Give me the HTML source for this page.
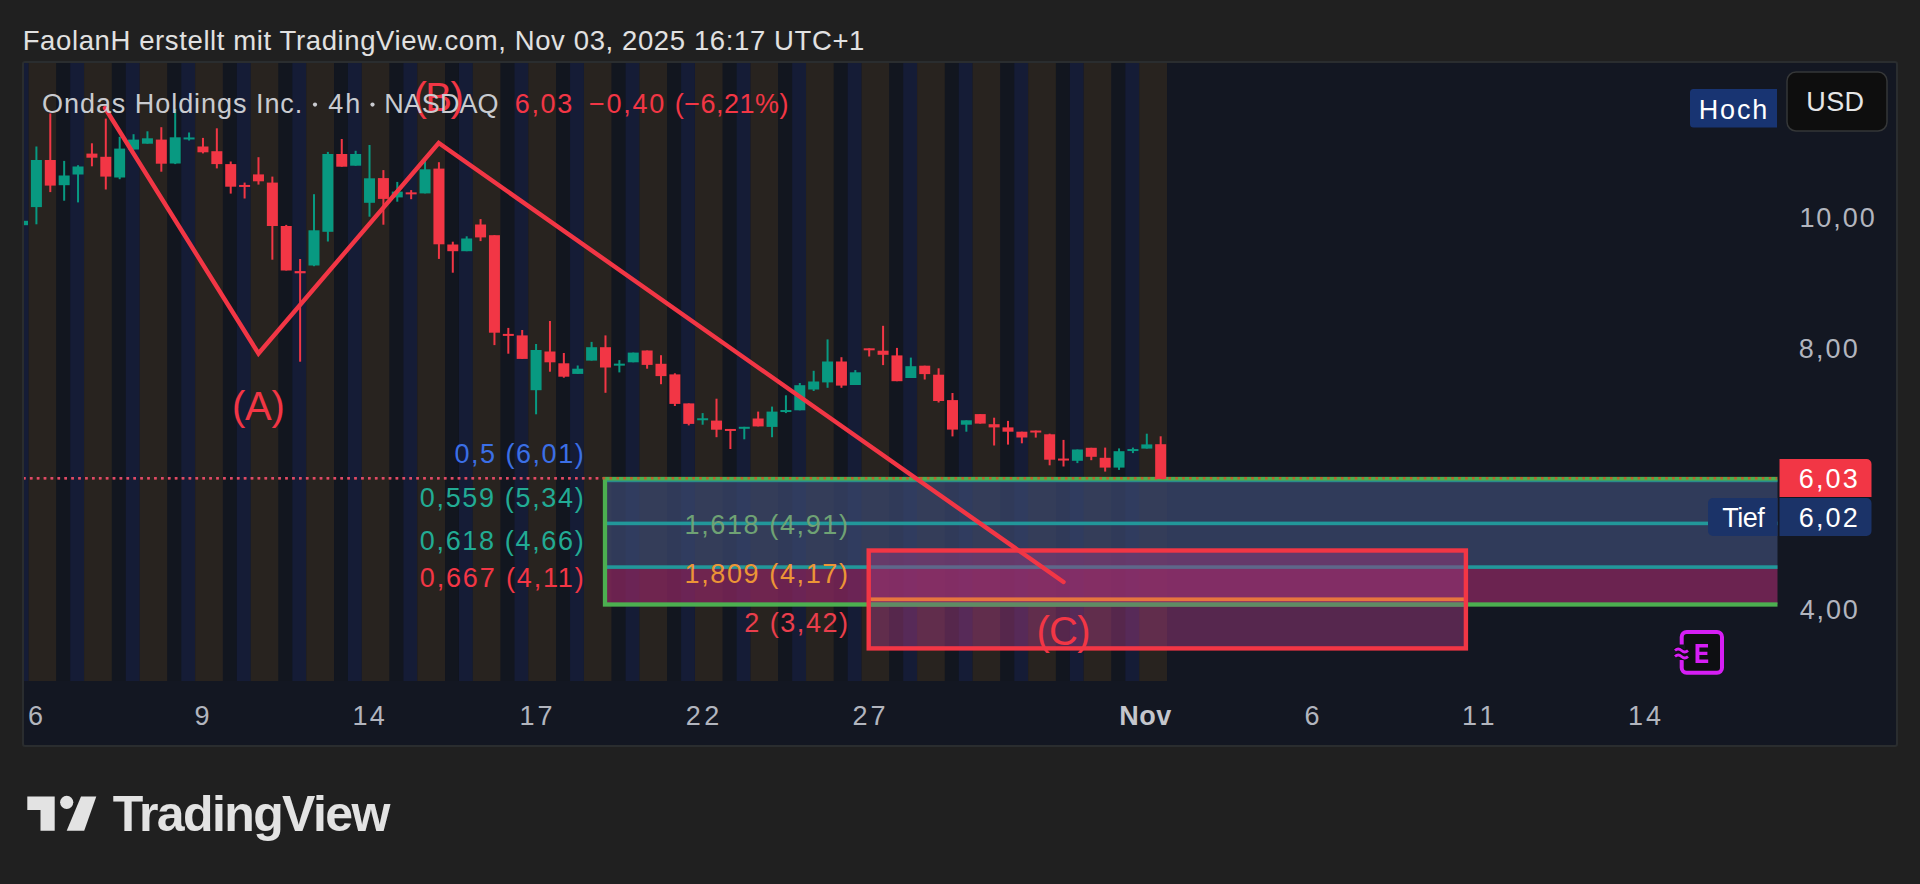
<!DOCTYPE html>
<html><head><meta charset="utf-8">
<style>
html,body{margin:0;padding:0;background:#202020;width:1920px;height:884px;overflow:hidden;}
svg{position:absolute;left:0;top:0;}
text{font-family:"Liberation Sans", sans-serif;}
</style></head><body>
<svg width="1920" height="884" viewBox="0 0 1920 884">
<defs><clipPath id="plot"><rect x="24" y="63" width="1753.5" height="618"/></clipPath></defs>
<text x="22.70" y="50.20" font-size="27.5" letter-spacing="0.614" fill="#e1e1e1">FaolanH erstellt mit TradingView.com, Nov 03, 2025 16:17 UTC+1</text>
<rect x="23" y="62" width="1874" height="684" rx="2" fill="#131722" stroke="#2a2d2f" stroke-width="2"/>
<g clip-path="url(#plot)">
<rect x="24.00" y="63" width="4.61" height="618" fill="#151c36"/><rect x="28.61" y="63" width="27.77" height="618" fill="#28231f"/><rect x="56.37" y="63" width="13.88" height="618" fill="#12161f"/><rect x="70.26" y="63" width="13.88" height="618" fill="#151c36"/><rect x="84.14" y="63" width="27.77" height="618" fill="#28231f"/><rect x="111.91" y="63" width="13.88" height="618" fill="#12161f"/><rect x="125.79" y="63" width="13.88" height="618" fill="#151c36"/><rect x="139.67" y="63" width="27.77" height="618" fill="#28231f"/><rect x="167.44" y="63" width="13.88" height="618" fill="#12161f"/><rect x="181.32" y="63" width="13.88" height="618" fill="#151c36"/><rect x="195.20" y="63" width="27.77" height="618" fill="#28231f"/><rect x="222.97" y="63" width="13.88" height="618" fill="#12161f"/><rect x="236.85" y="63" width="13.88" height="618" fill="#151c36"/><rect x="250.74" y="63" width="27.77" height="618" fill="#28231f"/><rect x="278.50" y="63" width="13.88" height="618" fill="#12161f"/><rect x="292.39" y="63" width="13.88" height="618" fill="#151c36"/><rect x="306.27" y="63" width="27.77" height="618" fill="#28231f"/><rect x="334.03" y="63" width="13.88" height="618" fill="#12161f"/><rect x="347.92" y="63" width="13.88" height="618" fill="#151c36"/><rect x="361.80" y="63" width="27.77" height="618" fill="#28231f"/><rect x="389.57" y="63" width="13.88" height="618" fill="#12161f"/><rect x="403.45" y="63" width="13.88" height="618" fill="#151c36"/><rect x="417.33" y="63" width="27.77" height="618" fill="#28231f"/><rect x="445.10" y="63" width="13.88" height="618" fill="#12161f"/><rect x="458.98" y="63" width="13.88" height="618" fill="#151c36"/><rect x="472.86" y="63" width="27.77" height="618" fill="#28231f"/><rect x="500.63" y="63" width="13.88" height="618" fill="#12161f"/><rect x="514.51" y="63" width="13.88" height="618" fill="#151c36"/><rect x="528.40" y="63" width="27.77" height="618" fill="#28231f"/><rect x="556.16" y="63" width="13.88" height="618" fill="#12161f"/><rect x="570.05" y="63" width="13.88" height="618" fill="#151c36"/><rect x="583.93" y="63" width="27.77" height="618" fill="#28231f"/><rect x="611.69" y="63" width="13.88" height="618" fill="#12161f"/><rect x="625.58" y="63" width="13.88" height="618" fill="#151c36"/><rect x="639.46" y="63" width="27.77" height="618" fill="#28231f"/><rect x="667.23" y="63" width="13.88" height="618" fill="#12161f"/><rect x="681.11" y="63" width="13.88" height="618" fill="#151c36"/><rect x="694.99" y="63" width="27.77" height="618" fill="#28231f"/><rect x="722.76" y="63" width="13.88" height="618" fill="#12161f"/><rect x="736.64" y="63" width="13.88" height="618" fill="#151c36"/><rect x="750.52" y="63" width="27.77" height="618" fill="#28231f"/><rect x="778.29" y="63" width="13.88" height="618" fill="#12161f"/><rect x="792.17" y="63" width="13.88" height="618" fill="#151c36"/><rect x="806.06" y="63" width="27.77" height="618" fill="#28231f"/><rect x="833.82" y="63" width="13.88" height="618" fill="#12161f"/><rect x="847.71" y="63" width="13.88" height="618" fill="#151c36"/><rect x="861.59" y="63" width="27.77" height="618" fill="#28231f"/><rect x="889.35" y="63" width="13.88" height="618" fill="#12161f"/><rect x="903.24" y="63" width="13.88" height="618" fill="#151c36"/><rect x="917.12" y="63" width="27.77" height="618" fill="#28231f"/><rect x="944.89" y="63" width="13.88" height="618" fill="#12161f"/><rect x="958.77" y="63" width="13.88" height="618" fill="#151c36"/><rect x="972.65" y="63" width="27.77" height="618" fill="#28231f"/><rect x="1000.42" y="63" width="13.88" height="618" fill="#12161f"/><rect x="1014.30" y="63" width="13.88" height="618" fill="#151c36"/><rect x="1028.18" y="63" width="27.77" height="618" fill="#28231f"/><rect x="1055.95" y="63" width="13.88" height="618" fill="#12161f"/><rect x="1069.83" y="63" width="13.88" height="618" fill="#151c36"/><rect x="1083.72" y="63" width="27.77" height="618" fill="#28231f"/><rect x="1111.48" y="63" width="13.88" height="618" fill="#12161f"/><rect x="1125.37" y="63" width="13.88" height="618" fill="#151c36"/><rect x="1139.25" y="63" width="27.77" height="618" fill="#28231f"/>
<rect x="605" y="479" width="1300" height="89" fill="#38456a" fill-opacity="0.78"/>
<rect x="605" y="568" width="1300" height="36" fill="#84265e" fill-opacity="0.78"/>
<rect x="605" y="521.6" width="1300" height="3.6" fill="#22979a"/>
<rect x="605" y="565.3" width="1300" height="3.6" fill="#22979a"/>
<rect x="605" y="479" width="1300" height="125.5" fill="none" stroke="#4caf50" stroke-width="4.3"/>
<rect x="869" y="550.5" width="596.5" height="98" fill="#99377a" fill-opacity="0.5"/><rect x="869" y="602.5" width="596.5" height="4.2" fill="#5f8c64"/>
<rect x="869" y="597.4" width="596" height="3.8" fill="#e6763e"/>
<rect x="868.7" y="550.5" width="597.2" height="97.9" fill="none" stroke="#f23645" stroke-width="4.4"/>
<rect x="607" y="480.6" width="1200" height="1.6" fill="#2a8a8a"/><line x1="23" y1="478.3" x2="1777" y2="478.3" stroke="#f04020" stroke-width="2.6" stroke-dasharray="2.6 4.3" stroke-opacity="0.7"/><line x1="23" y1="478.3" x2="603" y2="478.3" stroke="#dc4a6a" stroke-width="2.6" stroke-dasharray="2.6 4.3"/>
<rect x="21.52" y="219.30" width="2" height="13.40" fill="#089981"/><rect x="17.02" y="220.80" width="11" height="4.40" fill="#089981"/><rect x="35.40" y="146.50" width="2" height="77.80" fill="#089981"/><rect x="30.90" y="160.00" width="11" height="47.10" fill="#089981"/><rect x="49.28" y="113.40" width="2" height="78.70" fill="#f23645"/><rect x="44.78" y="160.00" width="11" height="25.60" fill="#f23645"/><rect x="63.16" y="160.90" width="2" height="39.80" fill="#089981"/><rect x="58.66" y="175.50" width="11" height="9.70" fill="#089981"/><rect x="77.04" y="165.20" width="2" height="37.20" fill="#089981"/><rect x="72.54" y="166.50" width="11" height="8.00" fill="#089981"/><rect x="90.92" y="143.30" width="2" height="23.00" fill="#f23645"/><rect x="86.42" y="153.60" width="11" height="4.10" fill="#f23645"/><rect x="104.80" y="118.60" width="2" height="70.90" fill="#f23645"/><rect x="100.30" y="156.80" width="11" height="19.80" fill="#f23645"/><rect x="118.68" y="136.80" width="2" height="42.40" fill="#089981"/><rect x="114.18" y="148.60" width="11" height="28.90" fill="#089981"/><rect x="132.56" y="134.20" width="2" height="15.30" fill="#089981"/><rect x="128.06" y="139.60" width="11" height="9.90" fill="#089981"/><rect x="146.44" y="131.30" width="2" height="12.40" fill="#089981"/><rect x="141.94" y="138.30" width="11" height="5.40" fill="#089981"/><rect x="160.32" y="127.20" width="2" height="44.50" fill="#f23645"/><rect x="155.82" y="139.60" width="11" height="24.10" fill="#f23645"/><rect x="174.20" y="108.90" width="2" height="55.20" fill="#089981"/><rect x="169.70" y="137.30" width="11" height="26.20" fill="#089981"/><rect x="188.08" y="132.50" width="2" height="8.00" fill="#089981"/><rect x="183.58" y="137.45" width="11" height="2.00" fill="#089981"/><rect x="201.96" y="137.90" width="2" height="15.50" fill="#f23645"/><rect x="197.46" y="146.50" width="11" height="5.80" fill="#f23645"/><rect x="215.84" y="128.30" width="2" height="40.10" fill="#f23645"/><rect x="211.34" y="151.20" width="11" height="12.90" fill="#f23645"/><rect x="229.72" y="161.50" width="2" height="32.10" fill="#f23645"/><rect x="225.22" y="164.10" width="11" height="22.60" fill="#f23645"/><rect x="243.60" y="182.60" width="2" height="15.90" fill="#f23645"/><rect x="239.10" y="184.95" width="11" height="2.00" fill="#f23645"/><rect x="257.48" y="157.20" width="2" height="27.40" fill="#f23645"/><rect x="252.98" y="174.40" width="11" height="6.90" fill="#f23645"/><rect x="271.36" y="176.60" width="2" height="83.10" fill="#f23645"/><rect x="266.86" y="182.60" width="11" height="43.40" fill="#f23645"/><rect x="285.24" y="224.90" width="2" height="45.60" fill="#f23645"/><rect x="280.74" y="226.00" width="11" height="44.50" fill="#f23645"/><rect x="299.12" y="259.00" width="2" height="102.70" fill="#f23645"/><rect x="294.62" y="271.10" width="11" height="2.20" fill="#f23645"/><rect x="313.00" y="194.20" width="2" height="72.00" fill="#089981"/><rect x="308.50" y="230.30" width="11" height="35.20" fill="#089981"/><rect x="326.88" y="151.90" width="2" height="89.60" fill="#089981"/><rect x="322.38" y="154.00" width="11" height="77.80" fill="#089981"/><rect x="340.76" y="139.00" width="2" height="27.70" fill="#f23645"/><rect x="336.26" y="154.00" width="11" height="12.70" fill="#f23645"/><rect x="354.64" y="150.80" width="2" height="14.90" fill="#089981"/><rect x="350.14" y="154.00" width="11" height="11.70" fill="#089981"/><rect x="368.52" y="145.00" width="2" height="71.70" fill="#089981"/><rect x="364.02" y="178.30" width="11" height="24.50" fill="#089981"/><rect x="382.40" y="170.10" width="2" height="54.60" fill="#f23645"/><rect x="377.90" y="178.10" width="11" height="20.80" fill="#f23645"/><rect x="396.28" y="181.90" width="2" height="19.80" fill="#089981"/><rect x="391.78" y="191.60" width="11" height="5.80" fill="#089981"/><rect x="410.16" y="190.10" width="2" height="9.10" fill="#f23645"/><rect x="405.66" y="192.35" width="11" height="2.00" fill="#f23645"/><rect x="424.04" y="157.90" width="2" height="35.50" fill="#089981"/><rect x="419.54" y="169.30" width="11" height="24.10" fill="#089981"/><rect x="437.92" y="162.20" width="2" height="96.70" fill="#f23645"/><rect x="433.42" y="168.60" width="11" height="75.70" fill="#f23645"/><rect x="451.80" y="241.70" width="2" height="31.00" fill="#f23645"/><rect x="447.30" y="244.50" width="11" height="6.70" fill="#f23645"/><rect x="465.68" y="236.30" width="2" height="14.90" fill="#089981"/><rect x="461.18" y="238.50" width="11" height="12.70" fill="#089981"/><rect x="479.56" y="219.10" width="2" height="22.00" fill="#f23645"/><rect x="475.06" y="224.50" width="11" height="12.90" fill="#f23645"/><rect x="493.44" y="235.20" width="2" height="109.90" fill="#f23645"/><rect x="488.94" y="235.20" width="11" height="97.50" fill="#f23645"/><rect x="507.32" y="327.90" width="2" height="25.80" fill="#f23645"/><rect x="502.82" y="333.90" width="11" height="2.00" fill="#f23645"/><rect x="521.20" y="330.00" width="2" height="28.90" fill="#f23645"/><rect x="516.70" y="335.40" width="11" height="23.50" fill="#f23645"/><rect x="535.08" y="344.00" width="2" height="70.30" fill="#089981"/><rect x="530.58" y="350.00" width="11" height="40.20" fill="#089981"/><rect x="548.96" y="321.00" width="2" height="50.70" fill="#f23645"/><rect x="544.46" y="351.50" width="11" height="10.80" fill="#f23645"/><rect x="562.84" y="353.00" width="2" height="24.70" fill="#f23645"/><rect x="558.34" y="363.30" width="11" height="13.40" fill="#f23645"/><rect x="576.72" y="365.50" width="2" height="8.40" fill="#089981"/><rect x="572.22" y="368.70" width="11" height="5.20" fill="#089981"/><rect x="590.60" y="341.90" width="2" height="18.70" fill="#089981"/><rect x="586.10" y="347.20" width="11" height="13.40" fill="#089981"/><rect x="604.48" y="335.40" width="2" height="57.40" fill="#f23645"/><rect x="599.98" y="347.20" width="11" height="20.30" fill="#f23645"/><rect x="618.36" y="360.10" width="2" height="12.30" fill="#089981"/><rect x="613.86" y="363.65" width="11" height="2.00" fill="#089981"/><rect x="632.24" y="352.60" width="2" height="9.70" fill="#089981"/><rect x="627.74" y="352.60" width="11" height="9.70" fill="#089981"/><rect x="646.12" y="350.50" width="2" height="18.20" fill="#f23645"/><rect x="641.62" y="350.50" width="11" height="14.40" fill="#f23645"/><rect x="660.00" y="355.20" width="2" height="29.00" fill="#f23645"/><rect x="655.50" y="363.80" width="11" height="12.30" fill="#f23645"/><rect x="673.88" y="373.30" width="2" height="32.70" fill="#f23645"/><rect x="669.38" y="374.40" width="11" height="29.50" fill="#f23645"/><rect x="687.76" y="403.40" width="2" height="22.00" fill="#f23645"/><rect x="683.26" y="403.40" width="11" height="20.50" fill="#f23645"/><rect x="701.64" y="413.10" width="2" height="11.60" fill="#089981"/><rect x="697.14" y="418.25" width="11" height="2.00" fill="#089981"/><rect x="715.52" y="398.70" width="2" height="38.50" fill="#f23645"/><rect x="711.02" y="420.60" width="11" height="9.10" fill="#f23645"/><rect x="729.40" y="428.95" width="2" height="20.05" fill="#f23645"/><rect x="724.90" y="428.95" width="11" height="2.00" fill="#f23645"/><rect x="743.28" y="426.80" width="2" height="12.50" fill="#089981"/><rect x="738.78" y="426.80" width="11" height="2.00" fill="#089981"/><rect x="757.16" y="411.60" width="2" height="14.80" fill="#f23645"/><rect x="752.66" y="418.50" width="11" height="7.90" fill="#f23645"/><rect x="771.04" y="406.60" width="2" height="30.60" fill="#089981"/><rect x="766.54" y="411.60" width="11" height="15.30" fill="#089981"/><rect x="784.92" y="395.30" width="2" height="17.80" fill="#089981"/><rect x="780.42" y="410.05" width="11" height="2.00" fill="#089981"/><rect x="798.80" y="383.00" width="2" height="27.30" fill="#089981"/><rect x="794.30" y="385.20" width="11" height="25.10" fill="#089981"/><rect x="812.68" y="370.80" width="2" height="20.20" fill="#089981"/><rect x="808.18" y="381.50" width="11" height="8.00" fill="#089981"/><rect x="826.56" y="339.40" width="2" height="48.40" fill="#089981"/><rect x="822.06" y="361.50" width="11" height="20.90" fill="#089981"/><rect x="840.44" y="357.20" width="2" height="30.60" fill="#f23645"/><rect x="835.94" y="361.50" width="11" height="24.10" fill="#f23645"/><rect x="854.32" y="370.10" width="2" height="14.90" fill="#089981"/><rect x="849.82" y="372.30" width="11" height="12.70" fill="#089981"/><rect x="868.20" y="348.30" width="2" height="8.20" fill="#f23645"/><rect x="863.70" y="348.30" width="11" height="2.00" fill="#f23645"/><rect x="882.08" y="325.80" width="2" height="39.30" fill="#f23645"/><rect x="877.58" y="350.70" width="11" height="4.10" fill="#f23645"/><rect x="895.96" y="347.90" width="2" height="33.30" fill="#f23645"/><rect x="891.46" y="355.40" width="11" height="25.80" fill="#f23645"/><rect x="909.84" y="357.60" width="2" height="20.40" fill="#089981"/><rect x="905.34" y="366.20" width="11" height="11.80" fill="#089981"/><rect x="923.72" y="365.70" width="2" height="13.80" fill="#f23645"/><rect x="919.22" y="365.70" width="11" height="8.40" fill="#f23645"/><rect x="937.60" y="368.30" width="2" height="34.20" fill="#f23645"/><rect x="933.10" y="374.70" width="11" height="26.30" fill="#f23645"/><rect x="951.48" y="393.00" width="2" height="43.40" fill="#f23645"/><rect x="946.98" y="400.10" width="11" height="29.50" fill="#f23645"/><rect x="965.36" y="420.30" width="2" height="11.40" fill="#089981"/><rect x="960.86" y="420.30" width="11" height="4.40" fill="#089981"/><rect x="979.24" y="414.10" width="2" height="9.50" fill="#f23645"/><rect x="974.74" y="414.10" width="11" height="9.50" fill="#f23645"/><rect x="993.12" y="417.70" width="2" height="27.80" fill="#f23645"/><rect x="988.62" y="424.20" width="11" height="3.20" fill="#f23645"/><rect x="1007.00" y="420.90" width="2" height="23.70" fill="#f23645"/><rect x="1002.50" y="427.40" width="11" height="4.30" fill="#f23645"/><rect x="1020.88" y="431.70" width="2" height="11.60" fill="#f23645"/><rect x="1016.38" y="431.70" width="11" height="5.80" fill="#f23645"/><rect x="1034.76" y="430.55" width="2" height="7.05" fill="#f23645"/><rect x="1030.26" y="430.55" width="11" height="2.00" fill="#f23645"/><rect x="1048.64" y="433.70" width="2" height="31.60" fill="#f23645"/><rect x="1044.14" y="434.30" width="11" height="25.40" fill="#f23645"/><rect x="1062.52" y="439.90" width="2" height="26.60" fill="#f23645"/><rect x="1058.02" y="458.55" width="11" height="2.00" fill="#f23645"/><rect x="1076.40" y="449.50" width="2" height="13.60" fill="#089981"/><rect x="1071.90" y="449.50" width="11" height="11.30" fill="#089981"/><rect x="1090.28" y="447.80" width="2" height="12.40" fill="#f23645"/><rect x="1085.78" y="447.80" width="11" height="9.00" fill="#f23645"/><rect x="1104.16" y="447.60" width="2" height="24.00" fill="#f23645"/><rect x="1099.66" y="457.80" width="11" height="9.80" fill="#f23645"/><rect x="1118.04" y="448.40" width="2" height="21.50" fill="#089981"/><rect x="1113.54" y="451.20" width="11" height="16.40" fill="#089981"/><rect x="1131.92" y="447.60" width="2" height="5.50" fill="#089981"/><rect x="1127.42" y="449.05" width="11" height="2.00" fill="#089981"/><rect x="1145.80" y="433.70" width="2" height="14.90" fill="#089981"/><rect x="1141.30" y="444.40" width="11" height="4.20" fill="#089981"/><rect x="1159.68" y="436.30" width="2" height="42.60" fill="#f23645"/><rect x="1155.18" y="444.20" width="11" height="34.70" fill="#f23645"/>
<polyline points="105,108 258.5,353.5 438.7,143 1063.5,582" fill="none" stroke="#f23645" stroke-width="4.4" stroke-linejoin="miter" stroke-linecap="round"/>
</g>
<text x="413.40" y="110.50" font-size="40" letter-spacing="-1.450" fill="#f23645">(B)</text><text x="232.00" y="420.30" font-size="40" letter-spacing="-0.300" fill="#f23645">(A)</text><text x="1036.50" y="645.00" font-size="40" letter-spacing="-0.754" fill="#f23645">(C)</text><text x="42.00" y="112.80" font-size="27" letter-spacing="0.954" fill="#c9cbd0">Ondas Holdings Inc.</text><text x="514.80" y="113.00" font-size="27" letter-spacing="1.655" fill="#f23645">6,03</text><text x="589.00" y="113.00" font-size="27" letter-spacing="1.750" fill="#f23645">−0,40</text><text x="674.80" y="113.00" font-size="27" letter-spacing="0.483" fill="#f23645">(−6,21%)</text><text x="328.30" y="112.80" font-size="27" letter-spacing="1.884" fill="#c9cbd0">4h</text><text x="384.30" y="112.80" font-size="27" letter-spacing="0.035" fill="#c9cbd0">NASDAQ</text><circle cx="315" cy="104.6" r="2.1" fill="#c9cbd0"/><circle cx="372.5" cy="104.6" r="2.1" fill="#c9cbd0"/><text x="454.40" y="463.00" font-size="27" letter-spacing="1.525" fill="#3b6fe6">0,5 (6,01)</text><text x="419.80" y="507.00" font-size="27" letter-spacing="1.663" fill="#22ab94">0,559 (5,34)</text><text x="419.80" y="550.00" font-size="27" letter-spacing="1.663" fill="#22ab94">0,618 (4,66)</text><text x="419.80" y="586.70" font-size="27" letter-spacing="1.845" fill="#f23645">0,667 (4,11)</text><text x="684.60" y="534.00" font-size="27" letter-spacing="1.617" fill="#6fa274">1,618 (4,91)</text><text x="684.60" y="582.60" font-size="27" letter-spacing="1.617" fill="#ec9536">1,809 (4,17)</text><text x="744.20" y="631.70" font-size="27" letter-spacing="1.534" fill="#ea3e4c">2 (3,42)</text>
<text x="1799.40" y="226.80" font-size="27" letter-spacing="1.938" fill="#b2b5be">10,00</text><text x="1798.70" y="357.50" font-size="27" letter-spacing="2.189" fill="#b2b5be">8,00</text><text x="1799.70" y="619.00" font-size="27" letter-spacing="1.855" fill="#b2b5be">4,00</text>
<path d="M1708,503 a5,5 0 0 1 5,-5 h64.5 v38 h-64.5 a5,5 0 0 1 -5,-5 z" fill="#1b3368"/>
<path d="M1779.5,498 h87 a5,5 0 0 1 5,5 v28 a5,5 0 0 1 -5,5 h-87 z" fill="#1b3368"/>
<path d="M1779.5,459 h87 a5,5 0 0 1 5,5 v33 h-92 z" fill="#f23645"/>
<text x="1798.70" y="487.50" font-size="27" letter-spacing="2.189" fill="#ffffff">6,03</text><text x="1798.70" y="526.50" font-size="27" letter-spacing="2.189" fill="#ffffff">6,02</text><text x="1722.30" y="527.00" font-size="27" letter-spacing="-0.502" fill="#ffffff">Tief</text>
<path d="M1693.5,89 h83.5 v38.5 h-83.5 a3.5,3.5 0 0 1 -3.5,-3.5 v-31.5 a3.5,3.5 0 0 1 3.5,-3.5 z" fill="#183472"/>
<rect x="1787" y="72" width="100" height="59" rx="9" fill="#0e0e0e" stroke="#353738" stroke-width="1.5"/>
<text x="1698.70" y="118.80" font-size="27" letter-spacing="1.862" fill="#ffffff">Hoch</text><text x="1806.20" y="111.30" font-size="27" letter-spacing="0.446" fill="#e6e6e6">USD</text>
<text x="28.00" y="725.20" font-size="27" letter-spacing="0.000" fill="#b2b5be">6</text><text x="194.60" y="725.20" font-size="27" letter-spacing="0.000" fill="#b2b5be">9</text><text x="352.60" y="725.20" font-size="27" letter-spacing="2.084" fill="#b2b5be">14</text><text x="519.40" y="725.20" font-size="27" letter-spacing="3.084" fill="#b2b5be">17</text><text x="685.70" y="725.20" font-size="27" letter-spacing="3.484" fill="#b2b5be">22</text><text x="852.50" y="725.20" font-size="27" letter-spacing="2.884" fill="#b2b5be">27</text><text x="1119.30" y="725.20" font-size="27" font-weight="bold" letter-spacing="0.504" fill="#c4c6cc">Nov</text><text x="1304.50" y="725.20" font-size="27" letter-spacing="0.000" fill="#b2b5be">6</text><text x="1462.00" y="725.20" font-size="27" letter-spacing="4.488" fill="#b2b5be">11</text><text x="1628.00" y="725.20" font-size="27" letter-spacing="2.984" fill="#b2b5be">14</text><text x="112.70" y="830.80" font-size="50" font-weight="bold" letter-spacing="-1.591" fill="#e3e3e3">TradingView</text>
<!-- E icon -->
<rect x="1681.7" y="631.9" width="40.3" height="40.9" rx="5" fill="#0e0f12" stroke="#d61ef5" stroke-width="4"/>
<rect x="1678" y="644.5" width="7" height="15.5" fill="#131722"/>
<path d="M1695.5,644 h12.5 v3.4 h-8.6 v4.3 h8 v3.3 h-8 v4.6 h8.8 v3.4 h-12.7 z" fill="#d61ef5"/>
<path d="M1675,650.5 q3.2,-3 6.5,0 t6.5,0 M1675,656.5 q3.2,-3 6.5,0 t6.5,0" stroke="#0e0f12" stroke-width="5" fill="none"/><path d="M1675,650.5 q3.2,-3 6.5,0 t6.5,0 M1675,656.5 q3.2,-3 6.5,0 t6.5,0" stroke="#d61ef5" stroke-width="2.8" fill="none"/>
<!-- TradingView logo -->
<path d="M27.3,796.4 H54.7 V830.8 H40.5 V810 H27.3 Z" fill="#e3e3e3"/>
<circle cx="66.7" cy="802.3" r="6.6" fill="#e3e3e3"/>
<path d="M81,796.4 H96.3 L84.2,830.8 H66.7 Z" fill="#e3e3e3"/>

</svg>
</body></html>
